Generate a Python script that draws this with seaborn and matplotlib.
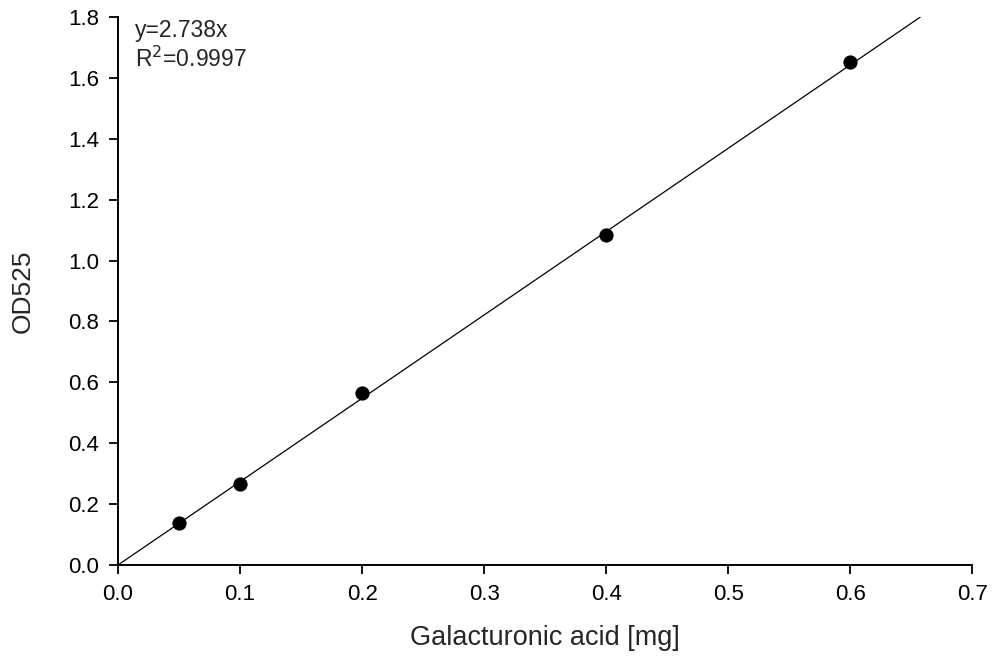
import numpy as np
import pandas as pd
import matplotlib
matplotlib.use("Agg")
import matplotlib.pyplot as plt
import seaborn as sns

# standard curve data
galact_mg = [0.05, 0.1, 0.2, 0.4, 0.6]
od525 = [0.139, 0.266, 0.565, 1.084, 1.652]
slope = 2.738
r2_text = "0.9997"

sns.set_style("ticks")
plt.rcParams['font.family'] = ['Liberation Sans', 'DejaVu Sans']

fig = plt.figure(figsize=(9.92, 6.6), dpi=100)
ax = fig.add_axes([0.119, 0.144, 0.861, 0.830])

# regression line through origin, up to the top of the y axis
x_end = 1.8 / slope
line_x = np.array([0.0, x_end])
sns.lineplot(x=line_x, y=slope * line_x, color='black', linewidth=0.9, ax=ax)

df = pd.DataFrame({'x': galact_mg, 'y': od525})
sns.scatterplot(data=df, x='x', y='y', color='black', s=105, edgecolor='black',
                linewidth=0, ax=ax, zorder=3)

ax.set_xlim(0, 0.7)
ax.set_ylim(0, 1.8)
ax.set_xticks(np.arange(0, 0.71, 0.1))
ax.set_yticks(np.arange(0, 1.81, 0.2))
ax.set_xticklabels([f"{v:.1f}" for v in np.arange(0, 0.71, 0.1)])
ax.set_yticklabels([f"{v:.1f}" for v in np.arange(0, 1.81, 0.2)])
ax.tick_params(direction='out', length=6.5, width=1.3, labelsize=16, colors='black', pad=7)
for sp in ['left', 'bottom']:
    ax.spines[sp].set_linewidth(1.4)
    ax.spines[sp].set_color('black')
sns.despine(ax=ax)

ax.set_xlabel("Galacturonic acid [mg]", fontsize=19.5, va='center')
ax.set_ylabel("OD525", fontsize=19, va='center')
ax.xaxis.set_label_coords(0.5, -0.133)
ax.yaxis.set_label_coords(-0.111, 0.5)

ax.text(0.014, 1.757, f"y={slope}x", fontsize=16.5, ha='left', va='center')
ax.text(0.014, 1.662, f"R$^2$={r2_text}", fontsize=16.5, ha='left', va='center')

fig.savefig("out.png", dpi=100)
